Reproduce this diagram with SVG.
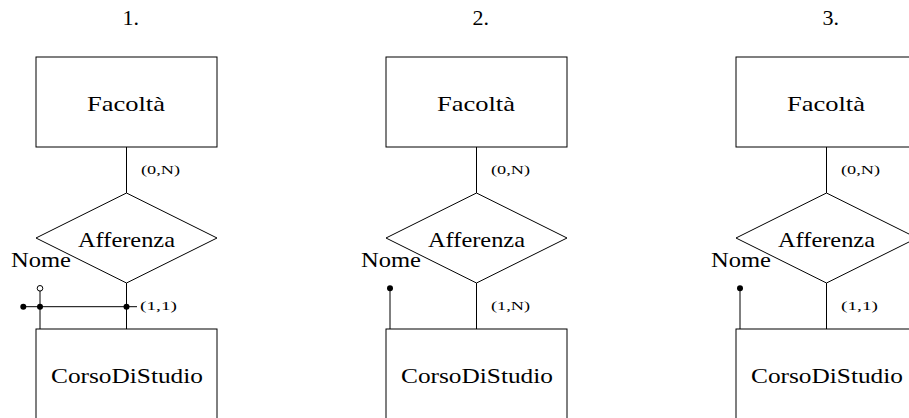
<svg xmlns="http://www.w3.org/2000/svg" width="909" height="418" viewBox="0 0 909 418">
<style>
.box{fill:#fff;stroke:#000;stroke-width:1}
.ln{fill:none;stroke:#000;stroke-width:1}
.t{font-family:'Liberation Serif','DejaVu Serif','Times New Roman',serif;font-size:22px;fill:#000}
.c{font-family:'Liberation Serif','DejaVu Serif','Times New Roman',serif;font-size:12px;fill:#000}
.dot{fill:#000}
.odot{fill:#fff;stroke:#000;stroke-width:1}
</style>
<rect width="909" height="418" fill="#fff"/>
<g id="titles">
<text class="t" x="122.5" y="25">1.</text>
<text class="t" x="472.5" y="25">2.</text>
<text class="t" x="822.5" y="25">3.</text>
</g>
<g id="connectors">
<line class="ln" x1="126.5" y1="147" x2="126.5" y2="193"/>
<line class="ln" x1="126.5" y1="283" x2="126.5" y2="329"/>
<line class="ln" x1="476.5" y1="147" x2="476.5" y2="193"/>
<line class="ln" x1="476.5" y1="283" x2="476.5" y2="329"/>
<line class="ln" x1="826.5" y1="147" x2="826.5" y2="193"/>
<line class="ln" x1="826.5" y1="283" x2="826.5" y2="329"/>
<text class="c" x="141" y="174" textLength="39" lengthAdjust="spacingAndGlyphs">(0,N)</text>
<text class="c" x="140" y="310" textLength="37" lengthAdjust="spacingAndGlyphs">(1,1)</text>
<text class="c" x="491" y="174" textLength="39" lengthAdjust="spacingAndGlyphs">(0,N)</text>
<text class="c" x="491" y="310" textLength="39" lengthAdjust="spacingAndGlyphs">(1,N)</text>
<text class="c" x="841" y="174" textLength="39" lengthAdjust="spacingAndGlyphs">(0,N)</text>
<text class="c" x="841" y="310" textLength="37" lengthAdjust="spacingAndGlyphs">(1,1)</text>
</g>
<g id="facolta1"><rect class="box" x="36" y="57" width="181" height="90"/><text class="t" x="87" y="111" textLength="78" lengthAdjust="spacingAndGlyphs">Facoltà</text></g>
<g id="afferenza1"><polygon class="box" points="126.5,193 217,238 126.5,283 36,238"/><text class="t" x="78" y="247" textLength="97" lengthAdjust="spacingAndGlyphs">Afferenza</text></g>
<g id="corso1"><rect class="box" x="36" y="329" width="181" height="100"/><text class="t" x="51" y="383" textLength="152" lengthAdjust="spacingAndGlyphs">CorsoDiStudio</text></g>
<g id="nome1">
<text class="t" x="11" y="267" textLength="60" lengthAdjust="spacingAndGlyphs">Nome</text>
<line class="ln" x1="40" y1="291" x2="40" y2="329"/>
<circle class="odot" cx="40" cy="288.3" r="2.8"/>
</g>
<g id="identificatore1">
<line class="ln" x1="23.3" y1="306.7" x2="137" y2="306.7"/>
<circle class="dot" cx="23.3" cy="306.7" r="3"/>
<circle class="dot" cx="40" cy="306.7" r="3"/>
<circle class="dot" cx="126.5" cy="306.7" r="3"/>
</g>
<g id="facolta2"><rect class="box" x="386" y="57" width="181" height="90"/><text class="t" x="437" y="111" textLength="78" lengthAdjust="spacingAndGlyphs">Facoltà</text></g>
<g id="afferenza2"><polygon class="box" points="476.5,193 567,238 476.5,283 386,238"/><text class="t" x="428" y="247" textLength="97" lengthAdjust="spacingAndGlyphs">Afferenza</text></g>
<g id="corso2"><rect class="box" x="386" y="329" width="181" height="100"/><text class="t" x="401" y="383" textLength="152" lengthAdjust="spacingAndGlyphs">CorsoDiStudio</text></g>
<g id="nome2">
<text class="t" x="361" y="267" textLength="60" lengthAdjust="spacingAndGlyphs">Nome</text>
<line class="ln" x1="390" y1="288.3" x2="390" y2="329"/>
<circle class="dot" cx="390" cy="288.3" r="3"/>
</g>
<g id="facolta3"><rect class="box" x="736" y="57" width="181" height="90"/><text class="t" x="787" y="111" textLength="78" lengthAdjust="spacingAndGlyphs">Facoltà</text></g>
<g id="afferenza3"><polygon class="box" points="826.5,193 917,238 826.5,283 736,238"/><text class="t" x="778" y="247" textLength="97" lengthAdjust="spacingAndGlyphs">Afferenza</text></g>
<g id="corso3"><rect class="box" x="736" y="329" width="181" height="100"/><text class="t" x="751" y="383" textLength="152" lengthAdjust="spacingAndGlyphs">CorsoDiStudio</text></g>
<g id="nome3">
<text class="t" x="711" y="267" textLength="60" lengthAdjust="spacingAndGlyphs">Nome</text>
<line class="ln" x1="740" y1="288.3" x2="740" y2="329"/>
<circle class="dot" cx="740" cy="288.3" r="3"/>
</g>
</svg>
